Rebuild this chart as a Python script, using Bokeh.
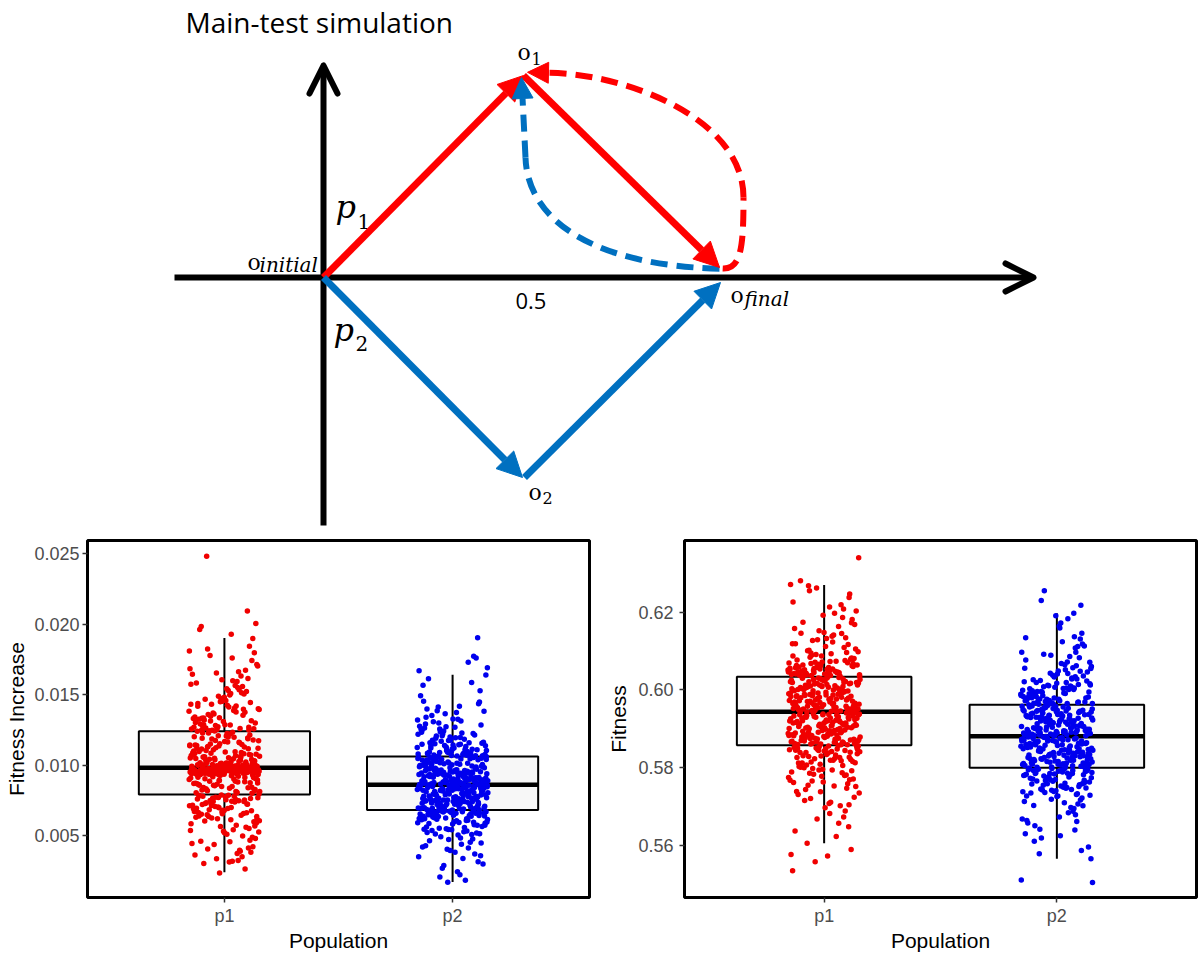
import numpy as np
from bokeh.plotting import figure
from bokeh.layouts import column, row
from bokeh.models import Arrow, NormalHead, OpenHead, Range1d, FixedTicker, NumeralTickFormatter
from bokeh.core.properties import value
from bokeh.embed import file_html
from bokeh.resources import INLINE

# ---------------------------------------------------------------- data
title_text = "Main-test simulation"

# schematic nodes (diagram units: o_final at x = 1, "0.5" half way)
node_o1 = (0.5, 0.505)
node_o2 = (0.4975, -0.5)
node_final_red = (0.99, 0.025)
node_final_blue = (0.9925, -0.0125)
axis_x_extent = (-0.3725, 1.775)
axis_y_extent = (-0.62, 0.53)

# dashed return paths (cubic bezier pieces: start, control 0, control 1, end)
red_path = dict(x0=[0.998, 1.05], y0=[0.0225, 0.20], cx0=[1.045, 1.05], cy0=[0.02, 0.40],
                cx1=[1.05, 0.75], cy1=[0.08, 0.512], x1=[1.05, 0.555], y1=[0.20, 0.512])
blue_path = dict(x0=[0.99], y0=[0.022], cx0=[0.68], cy0=[0.03], cx1=[0.51], cy1=[0.14],
                 x1=[0.505], y1=[0.30])

categories = ["p1", "p2"]

# box statistics: whisker low, Q1, median, Q3, whisker high
fi_lo = [0.0024, 0.0017]
fi_q1 = [0.0079, 0.0068]
fi_med = [0.0098, 0.0086]
fi_q3 = [0.0124, 0.0106]
fi_hi = [0.0190, 0.0164]

f_lo = [0.5606, 0.5566]
f_q1 = [0.5858, 0.5800]
f_med = [0.5944, 0.5881]
f_q3 = [0.6034, 0.5962]
f_hi = [0.6270, 0.6197]

fi_ticks = [0.005, 0.010, 0.015, 0.020, 0.025]
f_ticks = [0.56, 0.58, 0.60, 0.62]

fitness_increase_p1 = [
    0.01381, 0.01598, 0.01263, 0.01843, 0.01452, 0.01302, 0.01533, 0.01246, 0.02004, 0.01411,
    0.01331, 0.01672, 0.01487, 0.01255, 0.01564, 0.01358, 0.01741, 0.01286, 0.01437, 0.01512,
    0.01241, 0.01399, 0.01928, 0.01319, 0.01614, 0.01472, 0.01268, 0.01549, 0.01346, 0.01796,
    0.01424, 0.01291, 0.01503, 0.01251, 0.01683, 0.01386, 0.02481, 0.01443, 0.01308, 0.01581,
    0.01259, 0.01369, 0.01713, 0.01496, 0.01277, 0.01521, 0.01335, 0.01644, 0.01418, 0.01243,
    0.01897, 0.01458, 0.01324, 0.01557, 0.01281, 0.01393, 0.01758, 0.01466, 0.01248, 0.01605,
    0.01341, 0.01662, 0.01431, 0.01297, 0.01528, 0.01982, 0.01374, 0.01272, 0.01573, 0.01405,
    0.01822, 0.01313, 0.01481, 0.01240, 0.01631, 0.01362, 0.01702, 0.01507, 0.01286, 0.02093,
    0.01449, 0.01329, 0.01592, 0.01776, 0.01257, 0.01541, 0.01961, 0.01395, 0.01653, 0.01809,
    0.00987, 0.01102, 0.01213, 0.00995, 0.01046, 0.01158, 0.01003, 0.01077, 0.00982, 0.01189,
    0.01021, 0.01134, 0.00991, 0.01065, 0.01227, 0.01009, 0.01093, 0.00998, 0.01146, 0.01037,
    0.01172, 0.00989, 0.01058, 0.01116, 0.01012, 0.01201, 0.00994, 0.01083, 0.01029, 0.01164,
    0.01005, 0.01127, 0.00986, 0.01049, 0.01196, 0.01018, 0.01071, 0.00997, 0.01139, 0.01033,
    0.01108, 0.00992, 0.01219, 0.01056, 0.01002, 0.01151, 0.01087, 0.00984, 0.01041, 0.01178,
    0.01014, 0.01096, 0.00999, 0.01123, 0.01062, 0.01233, 0.01007, 0.01074, 0.00988, 0.01142,
    0.01025, 0.01185, 0.00996, 0.01052, 0.01113, 0.01011, 0.01207, 0.01068, 0.00993, 0.01131,
    0.01039, 0.01166, 0.01001, 0.01089, 0.00985, 0.01119, 0.01023, 0.01054, 0.01192, 0.01008,
    0.01099, 0.00997, 0.01149, 0.01031, 0.01224, 0.01016, 0.01079, 0.00990, 0.01137, 0.01045,
    0.00962, 0.00874, 0.00951, 0.00803, 0.00968, 0.00917, 0.00943, 0.00836, 0.00975, 0.00958,
    0.00889, 0.00947, 0.00812, 0.00971, 0.00929, 0.00955, 0.00861, 0.00966, 0.00939, 0.00795,
    0.00978, 0.00903, 0.00953, 0.00848, 0.00964, 0.00921, 0.00949, 0.00827, 0.00973, 0.00957,
    0.00882, 0.00945, 0.00908, 0.00969, 0.00818, 0.00959, 0.00935, 0.00867, 0.00976, 0.00951,
    0.00894, 0.00961, 0.00841, 0.00948, 0.00926, 0.00972, 0.00807, 0.00956, 0.00912, 0.00965,
    0.00856, 0.00942, 0.00979, 0.00898, 0.00952, 0.00831, 0.00967, 0.00938, 0.00871, 0.00974,
    0.00946, 0.00905, 0.00963, 0.00822, 0.00954, 0.00931, 0.00969, 0.00885, 0.00941, 0.00799,
    0.00977, 0.00914, 0.00958, 0.00852, 0.00966, 0.00924, 0.00944, 0.00838, 0.00971, 0.00955,
    0.00879, 0.00949, 0.00815, 0.00962, 0.00933, 0.00974, 0.00864, 0.00951, 0.00901, 0.00968,
    0.00762, 0.00531, 0.00694, 0.00388, 0.00741, 0.00617, 0.00455, 0.00778, 0.00662, 0.00234,
    0.00715, 0.00572, 0.00683, 0.00421, 0.00753, 0.00638, 0.00496, 0.00771, 0.00605, 0.00318,
    0.00727, 0.00549, 0.00669, 0.00362, 0.00746, 0.00625, 0.00478, 0.00785, 0.00651, 0.00262,
    0.00702, 0.00583, 0.00737, 0.00404, 0.00676, 0.00519, 0.00759, 0.00644, 0.00437, 0.00768,
    0.00611, 0.00301, 0.00722, 0.00563, 0.00689, 0.00372, 0.00749, 0.00597, 0.00508, 0.00782,
    0.00656, 0.00335, 0.00711, 0.00541, 0.00733, 0.00466, 0.00679, 0.00629, 0.00395, 0.00765,
    0.00588, 0.00312, 0.00719, 0.00558, 0.00697, 0.00443, 0.00756, 0.00634, 0.00487, 0.00775,
    0.00664, 0.00349, 0.00706, 0.00524, 0.00743, 0.00603, 0.00412, 0.00788, 0.00671, 0.00322,
    0.00729, 0.00567, 0.00691, 0.00459, 0.00752, 0.00618, 0.00536, 0.00779, 0.00647, 0.00381,
    0.00943, 0.01118, 0.00972, 0.00856, 0.00961, 0.01283, 0.00997, 0.00724, 0.00951, 0.01071,
    0.00936, 0.00884, 0.00977, 0.01206, 0.00958, 0.01353, 0.00969, 0.00812, 0.00947, 0.01035,
    0.00983, 0.00655, 0.00954, 0.01162, 0.00928, 0.00903, 0.00991, 0.01248, 0.00964, 0.00769,
    0.00939, 0.01094, 0.00975, 0.00842, 0.00957, 0.01417, 0.00986, 0.01047, 0.00932, 0.00698,
    0.00966, 0.01187, 0.00949, 0.00868, 0.00979, 0.01312, 0.00941, 0.01013, 0.00961, 0.00741,
    0.00994, 0.01141, 0.00953, 0.00825, 0.00971, 0.01462, 0.00937, 0.01059, 0.00982, 0.00634,
    0.00959, 0.01227, 0.00945, 0.00891, 0.00973, 0.01376, 0.00934, 0.01024, 0.00967, 0.00785,
    0.00988, 0.01173, 0.00956, 0.00847, 0.00942, 0.01268, 0.00978, 0.01082, 0.00951, 0.00712,
    0.00963, 0.01199, 0.00939, 0.00911, 0.00985, 0.01431, 0.00948, 0.01127, 0.00976, 0.00677,
    0.00931, 0.01057, 0.00968, 0.00873, 0.00955, 0.01334, 0.00992, 0.01008, 0.00944, 0.00803,
]

fitness_increase_p2 = [
    0.01124, 0.01312, 0.01071, 0.01903, 0.01187, 0.01453, 0.01095, 0.01236, 0.01382, 0.01063,
    0.01158, 0.01771, 0.01117, 0.01274, 0.01082, 0.01205, 0.01527, 0.01141, 0.01338, 0.01068,
    0.01219, 0.01103, 0.01416, 0.01176, 0.01759, 0.01087, 0.01248, 0.01132, 0.01297, 0.01066,
    0.01193, 0.01611, 0.01112, 0.01363, 0.01078, 0.01227, 0.01151, 0.01434, 0.01099, 0.01262,
    0.01728, 0.01169, 0.01074, 0.01325, 0.01136, 0.01212, 0.01091, 0.01492, 0.01183, 0.01061,
    0.01283, 0.01121, 0.01397, 0.01084, 0.01241, 0.01689, 0.01147, 0.01306, 0.01108, 0.01198,
    0.01565, 0.01069, 0.01256, 0.01162, 0.01372, 0.01093, 0.01224, 0.01128, 0.01668, 0.01072,
    0.01189, 0.01447, 0.01115, 0.01291, 0.01081, 0.01207, 0.01639, 0.01143, 0.01351, 0.01065,
    0.01173, 0.01232, 0.01101, 0.01411, 0.01155, 0.01268, 0.01077, 0.01585, 0.01138, 0.01319,
    0.00872, 0.00964, 0.01038, 0.00893, 0.00917, 0.01012, 0.00865, 0.00981, 0.00946, 0.01051,
    0.00884, 0.00929, 0.00996, 0.00868, 0.01027, 0.00953, 0.00901, 0.00975, 0.01044, 0.00879,
    0.00938, 0.01005, 0.00862, 0.00969, 0.00921, 0.01033, 0.00887, 0.00958, 0.00991, 0.00874,
    0.01019, 0.00943, 0.00896, 0.01057, 0.00866, 0.00977, 0.00912, 0.01001, 0.00881, 0.00949,
    0.01041, 0.00869, 0.00926, 0.00985, 0.00907, 0.01022, 0.00861, 0.00961, 0.00934, 0.01048,
    0.00877, 0.00972, 0.00915, 0.01009, 0.00889, 0.00941, 0.01031, 0.00864, 0.00955, 0.00998,
    0.00903, 0.01016, 0.00871, 0.00967, 0.00932, 0.01054, 0.00883, 0.00988, 0.00919, 0.01026,
    0.00867, 0.00951, 0.01003, 0.00898, 0.00936, 0.01039, 0.00873, 0.00979, 0.00909, 0.01014,
    0.00886, 0.00944, 0.01059, 0.00863, 0.00962, 0.00924, 0.00993, 0.00876, 0.01046, 0.00931,
    0.00812, 0.00734, 0.00851, 0.00697, 0.00776, 0.00823, 0.00708, 0.00843, 0.00756, 0.00689,
    0.00801, 0.00857, 0.00742, 0.00719, 0.00834, 0.00769, 0.00684, 0.00817, 0.00751, 0.00846,
    0.00727, 0.00792, 0.00701, 0.00838, 0.00763, 0.00806, 0.00692, 0.00853, 0.00738, 0.00781,
    0.00828, 0.00714, 0.00847, 0.00759, 0.00796, 0.00683, 0.00821, 0.00745, 0.00856, 0.00705,
    0.00787, 0.00832, 0.00731, 0.00772, 0.00815, 0.00694, 0.00849, 0.00753, 0.00808, 0.00722,
    0.00841, 0.00766, 0.00686, 0.00826, 0.00747, 0.00798, 0.00711, 0.00854, 0.00779, 0.00736,
    0.00819, 0.00699, 0.00844, 0.00761, 0.00803, 0.00725, 0.00836, 0.00688, 0.00784, 0.00851,
    0.00741, 0.00811, 0.00717, 0.00829, 0.00768, 0.00691, 0.00848, 0.00757, 0.00794, 0.00729,
    0.00839, 0.00703, 0.00818, 0.00774, 0.00858, 0.00739, 0.00789, 0.00695, 0.00831, 0.00749,
    0.00662, 0.00541, 0.00618, 0.00412, 0.00673, 0.00587, 0.00503, 0.00646, 0.00369, 0.00169,
    0.00629, 0.00556, 0.00671, 0.00447, 0.00598, 0.00521, 0.00654, 0.00288, 0.00613, 0.00482,
    0.00667, 0.00572, 0.00394, 0.00636, 0.00532, 0.00206, 0.00659, 0.00604, 0.00463, 0.00677,
    0.00548, 0.00621, 0.00337, 0.00651, 0.00513, 0.00582, 0.00428, 0.00641, 0.00267, 0.00669,
    0.00593, 0.00536, 0.00657, 0.00471, 0.00611, 0.00182, 0.00634, 0.00564, 0.00381, 0.00648,
    0.00507, 0.00675, 0.00591, 0.00438, 0.00626, 0.00314, 0.00663, 0.00544, 0.00608, 0.00492,
    0.00639, 0.00243, 0.00679, 0.00577, 0.00403, 0.00653, 0.00526, 0.00615, 0.00356, 0.00644,
    0.00561, 0.00452, 0.00666, 0.00596, 0.00221, 0.00631, 0.00517, 0.00672, 0.00419, 0.00606,
    0.00552, 0.00298, 0.00658, 0.00585, 0.00476, 0.00624, 0.00349, 0.00668, 0.00511, 0.00642,
    0.00884, 0.01021, 0.00793, 0.00946, 0.01137, 0.00712, 0.00867, 0.00978, 0.00824, 0.01253,
    0.00905, 0.00758, 0.00991, 0.00852, 0.01084, 0.00637, 0.00928, 0.00803, 0.01043, 0.00876,
    0.00771, 0.01176, 0.00893, 0.00956, 0.00729, 0.00837, 0.01012, 0.00918, 0.00594, 0.01102,
    0.00862, 0.00785, 0.00969, 0.00898, 0.01326, 0.00746, 0.00941, 0.00816, 0.01058, 0.00879,
    0.00693, 0.00985, 0.00859, 0.01147, 0.00912, 0.00764, 0.01003, 0.00831, 0.00657, 0.00951,
    0.00889, 0.01218, 0.00797, 0.00937, 0.00723, 0.01067, 0.00871, 0.00809, 0.00964, 0.00573,
    0.00902, 0.01121, 0.00841, 0.00752, 0.00995, 0.00926, 0.01384, 0.00787, 0.00868, 0.01036,
    0.00703, 0.00948, 0.00856, 0.01195, 0.00913, 0.00776, 0.00981, 0.00821, 0.00618, 0.01089,
    0.00895, 0.00739, 0.00972, 0.00848, 0.01271, 0.00932, 0.00801, 0.01049, 0.00863, 0.00681,
    0.00959, 0.01158, 0.00829, 0.00907, 0.00761, 0.01007, 0.00882, 0.00543, 0.00943, 0.01112,
]

fitness_p1 = [
    0.6051, 0.6123, 0.6039, 0.6247, 0.6072, 0.6158, 0.6044, 0.6089, 0.6203, 0.6058,
    0.6037, 0.6134, 0.6066, 0.6271, 0.6048, 0.6101, 0.6181, 0.6041, 0.6077, 0.6145,
    0.6055, 0.6340, 0.6093, 0.6036, 0.6117, 0.6062, 0.6226, 0.6046, 0.6084, 0.6168,
    0.6053, 0.6038, 0.6109, 0.6262, 0.6069, 0.6141, 0.6043, 0.6079, 0.6192, 0.6057,
    0.6035, 0.6127, 0.6064, 0.6213, 0.6049, 0.6096, 0.6152, 0.6040, 0.6074, 0.6268,
    0.6060, 0.6112, 0.6047, 0.6186, 0.6071, 0.6035, 0.6138, 0.6052, 0.6238, 0.6087,
    0.6042, 0.6163, 0.6068, 0.6105, 0.6045, 0.6281, 0.6076, 0.6129, 0.6056, 0.6197,
    0.6039, 0.6082, 0.6148, 0.6063, 0.6219, 0.6050, 0.6098, 0.6037, 0.6174, 0.6070,
    0.6054, 0.6119, 0.6044, 0.6255, 0.6081, 0.6132, 0.6059, 0.6208, 0.6091, 0.6046,
    0.5987, 0.6012, 0.5951, 0.6026, 0.5968, 0.5999, 0.5947, 0.6019, 0.5976, 0.6004,
    0.5958, 0.6031, 0.5983, 0.5949, 0.6008, 0.5971, 0.6023, 0.5955, 0.5993, 0.6015,
    0.5963, 0.5945, 0.6001, 0.5979, 0.6028, 0.5952, 0.5989, 0.6010, 0.5966, 0.6033,
    0.5948, 0.5996, 0.6017, 0.5973, 0.5956, 0.6006, 0.5984, 0.6024, 0.5961, 0.5946,
    0.5991, 0.6013, 0.5969, 0.6030, 0.5953, 0.5981, 0.6003, 0.5977, 0.6021, 0.5959,
    0.5994, 0.5950, 0.6009, 0.5974, 0.6027, 0.5964, 0.5986, 0.6016, 0.5957, 0.5998,
    0.6032, 0.5967, 0.5944, 0.6007, 0.5980, 0.6022, 0.5954, 0.5992, 0.6011, 0.5970,
    0.5947, 0.6025, 0.5985, 0.6002, 0.5962, 0.6018, 0.5978, 0.5951, 0.5997, 0.6029,
    0.5965, 0.6005, 0.5988, 0.5949, 0.6014, 0.5972, 0.6020, 0.5960, 0.5990, 0.6000,
    0.5902, 0.5871, 0.5936, 0.5889, 0.5918, 0.5863, 0.5927, 0.5895, 0.5879, 0.5941,
    0.5908, 0.5867, 0.5922, 0.5884, 0.5933, 0.5899, 0.5860, 0.5914, 0.5876, 0.5938,
    0.5892, 0.5869, 0.5925, 0.5905, 0.5882, 0.5931, 0.5861, 0.5911, 0.5887, 0.5942,
    0.5897, 0.5874, 0.5920, 0.5865, 0.5934, 0.5903, 0.5880, 0.5916, 0.5890, 0.5939,
    0.5868, 0.5928, 0.5894, 0.5859, 0.5912, 0.5885, 0.5935, 0.5900, 0.5873, 0.5923,
    0.5906, 0.5864, 0.5930, 0.5888, 0.5917, 0.5877, 0.5940, 0.5896, 0.5862, 0.5921,
    0.5883, 0.5909, 0.5937, 0.5870, 0.5913, 0.5891, 0.5926, 0.5866, 0.5904, 0.5943,
    0.5878, 0.5919, 0.5893, 0.5932, 0.5872, 0.5907, 0.5886, 0.5929, 0.5861, 0.5915,
    0.5898, 0.5875, 0.5924, 0.5881, 0.5936, 0.5910, 0.5867, 0.5901, 0.5890, 0.5930,
    0.5821, 0.5763, 0.5845, 0.5702, 0.5798, 0.5836, 0.5682, 0.5812, 0.5747, 0.5854,
    0.5789, 0.5623, 0.5829, 0.5771, 0.5849, 0.5731, 0.5806, 0.5558, 0.5841, 0.5794,
    0.5716, 0.5827, 0.5778, 0.5852, 0.5657, 0.5815, 0.5752, 0.5838, 0.5801, 0.5689,
    0.5847, 0.5768, 0.5824, 0.5606, 0.5792, 0.5843, 0.5739, 0.5818, 0.5783, 0.5856,
    0.5711, 0.5831, 0.5759, 0.5809, 0.5535, 0.5848, 0.5786, 0.5724, 0.5834, 0.5803,
    0.5673, 0.5851, 0.5775, 0.5819, 0.5744, 0.5840, 0.5796, 0.5637, 0.5826, 0.5766,
    0.5855, 0.5708, 0.5811, 0.5781, 0.5844, 0.5577, 0.5833, 0.5755, 0.5816, 0.5697,
    0.5850, 0.5787, 0.5823, 0.5735, 0.5842, 0.5800, 0.5648, 0.5830, 0.5762, 0.5857,
    0.5721, 0.5813, 0.5573, 0.5839, 0.5780, 0.5668, 0.5846, 0.5753, 0.5807, 0.5590,
    0.5962, 0.6041, 0.5893, 0.5998, 0.5847, 0.6073, 0.5921, 0.5976, 0.6013, 0.5868,
    0.5944, 0.6102, 0.5907, 0.5987, 0.5812, 0.6028, 0.5953, 0.5879, 0.6054, 0.5931,
    0.5769, 0.6009, 0.5969, 0.5898, 0.6037, 0.5941, 0.5856, 0.6146, 0.5915, 0.5992,
    0.6021, 0.5873, 0.5958, 0.6062, 0.5903, 0.5826, 0.5981, 0.6045, 0.5936, 0.5887,
    0.6003, 0.5949, 0.5738, 0.6087, 0.5926, 0.5971, 0.5862, 0.6031, 0.5912, 0.5995,
    0.6058, 0.5883, 0.5966, 0.5839, 0.6017, 0.5938, 0.6119, 0.5901, 0.5985, 0.5851,
    0.6049, 0.5927, 0.5974, 0.5794, 0.6025, 0.5955, 0.5891, 0.6068, 0.5918, 0.6001,
    0.5866, 0.5947, 0.6039, 0.5909, 0.5989, 0.5705, 0.6011, 0.5933, 0.5876, 0.6095,
    0.5961, 0.5921, 0.6006, 0.5844, 0.5978, 0.6052, 0.5896, 0.5943, 0.6173, 0.5915,
    0.5983, 0.5859, 0.6027, 0.5951, 0.5819, 0.6064, 0.5904, 0.5968, 0.6019, 0.5884,
]

fitness_p2 = [
    0.5989, 0.6052, 0.5971, 0.6118, 0.6007, 0.5978, 0.6031, 0.6255, 0.5995, 0.6068,
    0.5966, 0.6014, 0.6089, 0.5983, 0.6183, 0.6024, 0.5969, 0.6041, 0.6003, 0.6137,
    0.5976, 0.6060, 0.5992, 0.6019, 0.6218, 0.5964, 0.6077, 0.6010, 0.5985, 0.6046,
    0.6159, 0.5998, 0.6028, 0.5973, 0.6097, 0.6005, 0.5963, 0.6036, 0.6191, 0.5981,
    0.6057, 0.5970, 0.6016, 0.6124, 0.5993, 0.6083, 0.5967, 0.6021, 0.6001, 0.6230,
    0.5979, 0.6049, 0.5987, 0.6108, 0.6012, 0.5965, 0.6065, 0.5996, 0.6146, 0.6033,
    0.5974, 0.6008, 0.6092, 0.5982, 0.6172, 0.6026, 0.5968, 0.6043, 0.5999, 0.6072,
    0.5977, 0.6113, 0.6017, 0.5990, 0.6197, 0.5962, 0.6055, 0.6004, 0.5984, 0.6131,
    0.6038, 0.5972, 0.6086, 0.5994, 0.6023, 0.6164, 0.5980, 0.6062, 0.6011, 0.5986,
    0.5917, 0.5893, 0.5948, 0.5886, 0.5931, 0.5904, 0.5957, 0.5899, 0.5925, 0.5883,
    0.5942, 0.5911, 0.5889, 0.5953, 0.5920, 0.5896, 0.5937, 0.5884, 0.5908, 0.5960,
    0.5928, 0.5891, 0.5945, 0.5914, 0.5882, 0.5934, 0.5902, 0.5951, 0.5887, 0.5922,
    0.5940, 0.5897, 0.5913, 0.5958, 0.5885, 0.5929, 0.5906, 0.5946, 0.5892, 0.5919,
    0.5955, 0.5888, 0.5933, 0.5901, 0.5944, 0.5915, 0.5884, 0.5926, 0.5950, 0.5898,
    0.5910, 0.5938, 0.5890, 0.5961, 0.5923, 0.5894, 0.5947, 0.5907, 0.5882, 0.5932,
    0.5916, 0.5954, 0.5895, 0.5939, 0.5903, 0.5927, 0.5887, 0.5949, 0.5912, 0.5900,
    0.5936, 0.5889, 0.5956, 0.5921, 0.5905, 0.5943, 0.5891, 0.5930, 0.5909, 0.5952,
    0.5885, 0.5924, 0.5941, 0.5899, 0.5918, 0.5959, 0.5893, 0.5935, 0.5906, 0.5946,
    0.5843, 0.5812, 0.5867, 0.5826, 0.5805, 0.5858, 0.5834, 0.5877, 0.5818, 0.5849,
    0.5802, 0.5871, 0.5838, 0.5823, 0.5862, 0.5809, 0.5853, 0.5831, 0.5875, 0.5815,
    0.5846, 0.5801, 0.5869, 0.5829, 0.5856, 0.5820, 0.5879, 0.5836, 0.5807, 0.5861,
    0.5841, 0.5814, 0.5873, 0.5825, 0.5851, 0.5803, 0.5866, 0.5833, 0.5819, 0.5880,
    0.5847, 0.5810, 0.5859, 0.5828, 0.5870, 0.5806, 0.5844, 0.5822, 0.5864, 0.5837,
    0.5813, 0.5876, 0.5830, 0.5855, 0.5804, 0.5868, 0.5840, 0.5817, 0.5852, 0.5827,
    0.5878, 0.5808, 0.5845, 0.5821, 0.5863, 0.5835, 0.5811, 0.5872, 0.5842, 0.5800,
    0.5857, 0.5824, 0.5874, 0.5816, 0.5850, 0.5832, 0.5865, 0.5804, 0.5839, 0.5860,
    0.5819, 0.5848, 0.5827, 0.5876, 0.5809, 0.5854, 0.5834, 0.5869, 0.5812, 0.5845,
    0.5782, 0.5741, 0.5795, 0.5688, 0.5767, 0.5729, 0.5789, 0.5651, 0.5756, 0.5798,
    0.5713, 0.5776, 0.5619, 0.5748, 0.5791, 0.5735, 0.5679, 0.5772, 0.5505, 0.5760,
    0.5797, 0.5722, 0.5784, 0.5664, 0.5744, 0.5779, 0.5596, 0.5753, 0.5793, 0.5707,
    0.5769, 0.5738, 0.5786, 0.5642, 0.5762, 0.5726, 0.5799, 0.5695, 0.5774, 0.5566,
    0.5750, 0.5787, 0.5717, 0.5765, 0.5630, 0.5781, 0.5743, 0.5792, 0.5673, 0.5758,
    0.5731, 0.5777, 0.5511, 0.5747, 0.5796, 0.5702, 0.5770, 0.5658, 0.5785, 0.5736,
    0.5763, 0.5794, 0.5611, 0.5752, 0.5719, 0.5780, 0.5684, 0.5745, 0.5790, 0.5727,
    0.5773, 0.5640, 0.5759, 0.5788, 0.5710, 0.5766, 0.5587, 0.5739, 0.5783, 0.5698,
    0.5755, 0.5797, 0.5625, 0.5771, 0.5733, 0.5785, 0.5668, 0.5749, 0.5579, 0.5761,
    0.5893, 0.5962, 0.5837, 0.5918, 0.6013, 0.5871, 0.5785, 0.5945, 0.5904, 0.6056,
    0.5852, 0.5931, 0.5811, 0.5976, 0.5882, 0.6097, 0.5923, 0.5845, 0.5991, 0.5867,
    0.5759, 0.5954, 0.5898, 0.6028, 0.5826, 0.5937, 0.5876, 0.5703, 0.5969, 0.5911,
    0.5849, 0.6042, 0.5889, 0.5805, 0.5948, 0.5862, 0.6005, 0.5927, 0.5774, 0.5895,
    0.5983, 0.5838, 0.5915, 0.6134, 0.5856, 0.5941, 0.5819, 0.5972, 0.5886, 0.5662,
    0.5934, 0.5873, 0.6019, 0.5902, 0.5831, 0.5958, 0.5879, 0.5793, 0.5925, 0.6071,
    0.5859, 0.5987, 0.5908, 0.5742, 0.5946, 0.5843, 0.5996, 0.5882, 0.5816, 0.5929,
    0.6034, 0.5869, 0.5951, 0.5798, 0.5913, 0.5861, 0.5979, 0.5727, 0.5891, 0.6008,
    0.5847, 0.5937, 0.5875, 0.6112, 0.5922, 0.5808, 0.5965, 0.5884, 0.5768, 0.5943,
    0.5855, 0.6001, 0.5897, 0.5823, 0.5956, 0.5866, 0.6048, 0.5916, 0.5781, 0.5935,
]

# ---------------------------------------------------------------- styles
RED = "#FF0000"
BLUE = "#0070C0"
PT_RED = "#F00000"
PT_BLUE = "#0000EE"
SANS = "Liberation Sans"
SERIF = "DejaVu Serif"
PX = 400.0  # screen pixels per diagram unit


def lift(font_px):
    # the svg text renderer sits slightly below the requested alphabetic baseline
    return 0.37 * font_px / PX


# ---------------------------------------------------------------- top schematic
top = figure(width=1200, height=530, x_range=Range1d(-0.8075, 2.1925),
             y_range=Range1d(-0.6325, 0.6925), output_backend="svg",
             toolbar_location=None, min_border=0)
top.axis.visible = False
top.grid.visible = False
top.outline_line_color = None
top.background_fill_color = "white"
top.border_fill_color = "white"

# dashed return paths
top.bezier(line_color=BLUE, line_width=6, line_dash="17 9", **blue_path)
top.bezier(line_color=RED, line_width=6, line_dash="17 9", **red_path)

# coordinate axes with open arrow heads
for xs_, ys_ in (((axis_x_extent[0], axis_x_extent[1]), (0, 0)),
                 ((0, 0), (axis_y_extent[0], axis_y_extent[1]))):
    top.add_layout(Arrow(end=OpenHead(size=28, line_width=6, line_color="black",
                                      line_join="round", line_cap="round"),
                         x_start=xs_[0], y_start=ys_[0], x_end=xs_[1], y_end=ys_[1],
                         line_width=6, line_color="black"))


# solid trajectories
def solid_arrow(x0, y0, x1, y1, color):
    top.add_layout(Arrow(end=NormalHead(size=25, fill_color=color, line_color=color),
                         x_start=x0, y_start=y0, x_end=x1, y_end=y1,
                         line_color=color, line_width=7))


solid_arrow(0, 0, node_o1[0], node_o1[1], RED)
solid_arrow(node_o1[0], node_o1[1], node_final_red[0], node_final_red[1], RED)
solid_arrow(0, 0, node_o2[0], node_o2[1], BLUE)
solid_arrow(node_o2[0] + 0.005, node_o2[1], node_final_blue[0], node_final_blue[1], BLUE)

# heads of the dashed paths
top.add_layout(Arrow(end=NormalHead(size=21, fill_color=BLUE, line_color=BLUE),
                     x_start=blue_path["x1"][0], y_start=blue_path["y1"][0],
                     x_end=node_o1[0] - 0.005, y_end=node_o1[1] - 0.005,
                     line_color=BLUE, line_width=6, line_dash="17 9"))
top.add_layout(Arrow(end=NormalHead(size=21, fill_color=RED, line_color=RED),
                     x_start=red_path["x1"][-1], y_start=red_path["y1"][-1],
                     x_end=node_o1[0] + 0.01, y_end=node_o1[1] + 0.008,
                     line_color=RED, line_width=6, line_alpha=0.0))


# texts
def label(xs, ys, texts, font, size, style="normal"):
    fs = float(size)
    top.text(x=xs, y=[y + lift(fs) for y in ys], text=texts, text_font=value(font),
             text_font_style=style, text_font_size=f"{size}px", text_color="black",
             text_baseline="alphabetic", text_align="left")


# title kept fully inside the canvas (its ascent box must not cross the top edge)
label([-0.345], [0.6125], [title_text], "Open Sans", 28)
label([0.48], [-0.08], ["0.5"], "Open Sans", 22)

# node labels: upright "o" with subscripts
label([-0.19, 1.0175, 0.485, 0.5125], [0.0175, -0.065, 0.5425, -0.5575], ["o", "o", "o", "o"], SERIF, 22)
label([-0.16, 1.0525], [0.0125, -0.0725], ["initial", "final"], SERIF, 20, "italic")
label([0.52, 0.5475], [0.5325, -0.565], ["1", "2"], SERIF, 16)

# p1 / p2 labels
label([0.03, 0.025], [0.1475, -0.16], ["p", "p"], SERIF, 32, "italic")
label([0.085, 0.08], [0.1225, -0.1825], ["1", "2"], SERIF, 20)


# ---------------------------------------------------------------- box plots
def jitter(n):
    # deterministic, evenly spread horizontal jitter (+/- 0.155 category units)
    return ((np.arange(n) * 0.6180339887498949) % 1.0 - 0.5) * 0.31


def box_panel(width, y_range, ticks, fmt, ylabel, groups, lo, q1, med, q3, hi,
              border_left, border_right, tick_standoff, label_standoff):
    p = figure(width=width, height=424, x_range=Range1d(0.4, 2.6), y_range=Range1d(*y_range),
               output_backend="svg", toolbar_location=None,
               min_border_left=border_left, min_border_right=border_right,
               min_border_top=10, min_border_bottom=57)
    p.grid.visible = False
    p.background_fill_color = "white"
    p.border_fill_color = "white"
    p.outline_line_color = "black"
    p.outline_line_width = 3

    xs = np.arange(1, len(categories) + 1)
    bw = 0.75
    p.vbar(x=xs, width=bw, bottom=q1, top=q3, fill_color="#F7F7F7", line_color="black", line_width=2)
    p.segment(x0=xs, y0=lo, x1=xs, y1=q1, line_color="black", line_width=2)
    p.segment(x0=xs, y0=q3, x1=xs, y1=hi, line_color="black", line_width=2)
    p.segment(x0=xs - bw / 2, y0=med, x1=xs + bw / 2, y1=med, line_color="black", line_width=4.5)

    for xc, vals, col in zip(xs, groups, [PT_RED, PT_BLUE]):
        v = np.asarray(vals)
        p.scatter(x=xc + jitter(len(v)), y=v, size=5.5, fill_color=col, line_color=None)

    p.xaxis.ticker = FixedTicker(ticks=list(xs))
    p.xaxis.major_label_overrides = {int(x): c for x, c in zip(xs, categories)}
    p.yaxis.ticker = FixedTicker(ticks=ticks)
    p.yaxis.formatter = NumeralTickFormatter(format=fmt)
    p.xaxis.axis_label = "Population"
    p.yaxis.axis_label = ylabel
    for ax in (p.xaxis, p.yaxis):
        ax.axis_line_color = None
        ax.major_tick_line_color = "#333333"
        ax.major_tick_line_width = 1.5
        ax.major_tick_out = 5
        ax.major_tick_in = 0
        ax.minor_tick_out = 0
        ax.minor_tick_in = 0
        ax.major_label_text_font = SANS
        ax.major_label_text_font_size = "18px"
        ax.major_label_text_color = "#4D4D4D"
        ax.axis_label_text_font = SANS
        ax.axis_label_text_font_size = "21px"
        ax.axis_label_text_font_style = "normal"
        ax.axis_label_text_color = "black"
    p.xaxis.major_label_standoff = 3
    p.xaxis.axis_label_standoff = 0
    p.yaxis.major_label_standoff = tick_standoff
    p.yaxis.axis_label_standoff = label_standoff
    return p


left = box_panel(603, (0.000603, 0.025922), fi_ticks, "0.000", "Fitness Increase",
                 [fitness_increase_p1, fitness_increase_p2],
                 fi_lo, fi_q1, fi_med, fi_q3, fi_hi, 87, 14, 3, 3)
right = box_panel(597, (0.54663, 0.63843), f_ticks, "0.00", "Fitness",
                  [fitness_p1, fitness_p2],
                  f_lo, f_q1, f_med, f_q3, f_hi, 81, 4, 6, 5)

layout = column(top, row(left, right))

with open("out.html", "w") as fh:
    fh.write(file_html(layout, INLINE, title="Main-test simulation"))
